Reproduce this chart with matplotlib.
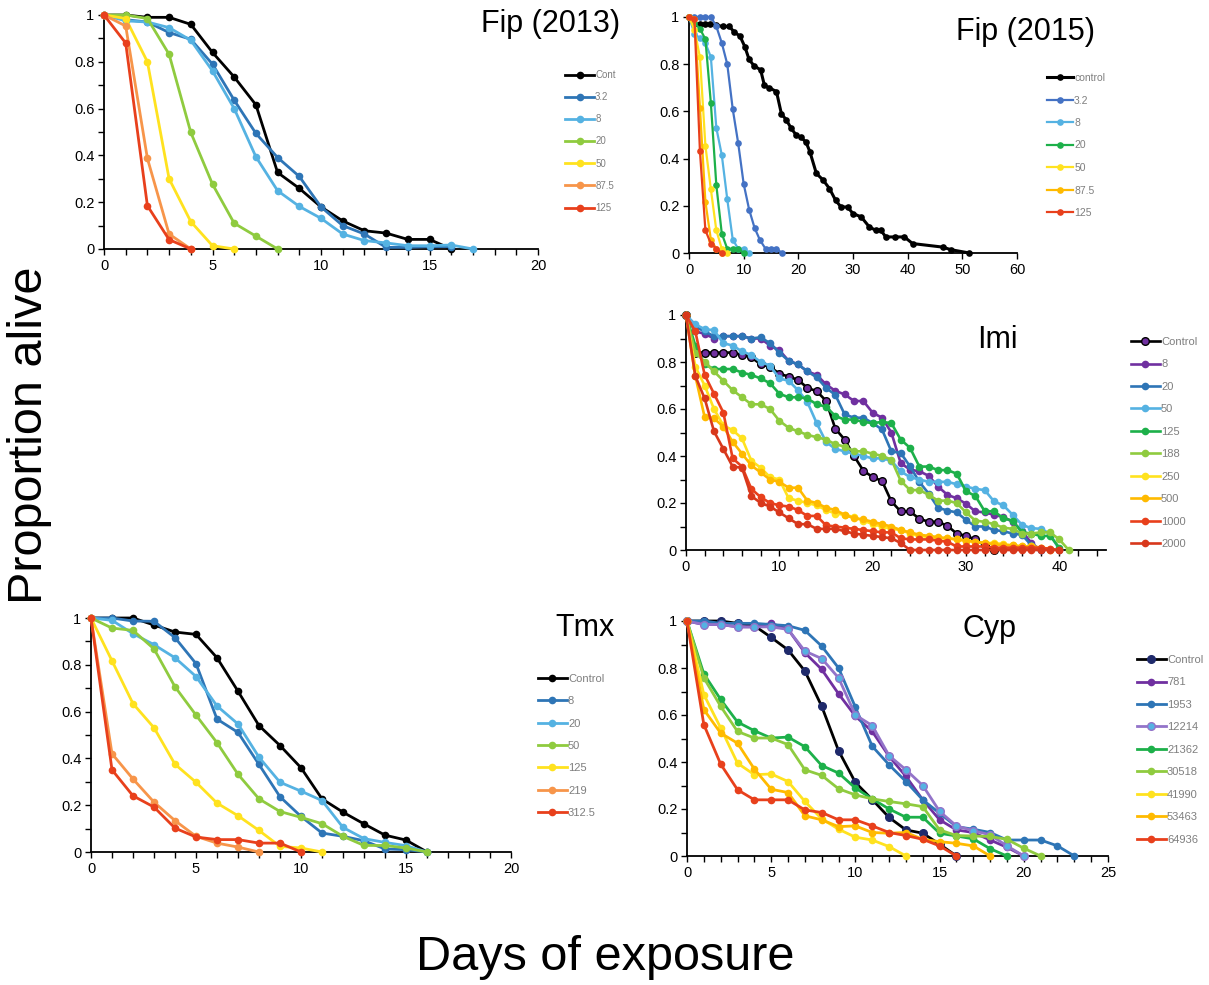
import matplotlib
matplotlib.use("Agg")
import matplotlib.pyplot as plt
from matplotlib.ticker import MultipleLocator, FuncFormatter

plt.rcParams['font.family'] = ['Liberation Sans', 'DejaVu Sans']

W, H = 1209, 985

# ---------------- data ----------------
# Fip (2013), one point per day
fip13_labels = ['Cont', '3.2', '8', '20', '50', '87.5', '125']
fip13_cont = [1, 1.0, 0.99, 0.99, 0.96, 0.84, 0.735, 0.616, 0.327, 0.259, 0.18, 0.12, 0.078, 0.068, 0.041, 0.041, 0]
fip13_3_2 = [1, 0.98, 0.97, 0.925, 0.896, 0.79, 0.636, 0.494, 0.391, 0.31, 0.18, 0.10, 0.064, 0.007, 0.007, 0.01, 0.01]
fip13_8 = [1, 0.975, 0.97, 0.946, 0.892, 0.761, 0.60, 0.394, 0.249, 0.182, 0.131, 0.064, 0.036, 0.026, 0.014, 0.014, 0.017, 0]
fip13_20 = [1, 1.0, 0.985, 0.832, 0.498, 0.277, 0.11, 0.055, 0]
fip13_50 = [1, 0.985, 0.80, 0.30, 0.117, 0.014, 0]
fip13_87_5 = [1, 0.953, 0.387, 0.064, 0]
fip13_125 = [1, 0.88, 0.185, 0.04, 0]

# Fip (2015)
fip15_labels = ['control', '3.2', '8', '20', '50', '87.5', '125']
fip15_ctrl_x = [0, 1, 2, 3, 3.8, 5, 6.2, 7.4, 8.3, 9.3, 10.2, 11, 11.9, 13.1, 13.8, 14.7, 16, 16.9, 17.8,
                18.7, 19.6, 20.5, 21.4, 22.1, 23.3, 24.5, 25.7, 26.8, 27.8, 29, 30, 31.5, 33, 34.2, 35.1,
                36, 37.6, 39.4, 40.9, 46.4, 47.9, 51.3]
fip15_ctrl = [1, 0.97, 0.97, 0.97, 0.97, 0.965, 0.96, 0.96, 0.935, 0.92, 0.875, 0.82, 0.793, 0.776, 0.71,
              0.70, 0.684, 0.59, 0.564, 0.528, 0.50, 0.49, 0.47, 0.43, 0.337, 0.31, 0.273, 0.224, 0.195,
              0.195, 0.167, 0.153, 0.11, 0.096, 0.096, 0.068, 0.068, 0.068, 0.04, 0.025, 0.014, 0]
fip15_3_2 = [1, 1, 1, 1, 1, 0.96, 0.89, 0.80, 0.61, 0.465, 0.293, 0.184, 0.106, 0.054, 0.018, 0.018, 0.018, 0]
fip15_8 = [1, 0.93, 0.91, 0.89, 0.83, 0.53, 0.415, 0.228, 0.057, 0.018, 0.018, 0]
fip15_20 = [1, 0.975, 0.95, 0.906, 0.635, 0.287, 0.082, 0.018, 0.018, 0.018, 0]
fip15_50 = [1, 0.946, 0.83, 0.455, 0.27, 0.096, 0.018, 0]
fip15_87_5 = [1, 0.99, 0.615, 0.217, 0.057, 0.018, 0]
fip15_125 = [1, 0.99, 0.432, 0.096, 0.04, 0.018, 0]

# Imi
imi_labels = ['Control', '8', '20', '50', '125', '188', '250', '500', '1000', '2000']
imi_ctrl = [1, 0.84, 0.84, 0.84, 0.84, 0.84, 0.83, 0.82, 0.79, 0.78, 0.75, 0.738, 0.724, 0.69, 0.676, 0.635,
            0.516, 0.47, 0.40, 0.338, 0.31, 0.294, 0.207, 0.164, 0.164, 0.133, 0.12, 0.12, 0.103, 0.07, 0.06,
            0.045, 0.02, 0]
imi_8 = [1, 0.93, 0.92, 0.90, 0.91, 0.91, 0.91, 0.90, 0.90, 0.87, 0.85, 0.805, 0.79, 0.76, 0.745, 0.705, 0.677,
         0.662, 0.634, 0.634, 0.584, 0.563, 0.50, 0.37, 0.342, 0.335, 0.316, 0.27, 0.235, 0.22, 0.197, 0.164,
         0.16, 0.15, 0.14, 0.12, 0.08, 0.03, 0]
imi_20 = [1, 0.95, 0.93, 0.91, 0.91, 0.91, 0.91, 0.90, 0.905, 0.88, 0.84, 0.805, 0.79, 0.76, 0.735, 0.69, 0.66,
          0.577, 0.563, 0.563, 0.54, 0.513, 0.42, 0.413, 0.356, 0.29, 0.24, 0.18, 0.168, 0.16, 0.128, 0.10,
          0.10, 0.085, 0.08, 0.07, 0.065, 0.02, 0]
imi_50 = [1, 0.96, 0.94, 0.935, 0.88, 0.87, 0.845, 0.83, 0.80, 0.785, 0.73, 0.72, 0.68, 0.63, 0.54, 0.46, 0.43,
          0.42, 0.41, 0.40, 0.39, 0.39, 0.38, 0.335, 0.31, 0.30, 0.29, 0.29, 0.29, 0.28, 0.27, 0.26, 0.255,
          0.207, 0.19, 0.15, 0.107, 0.093, 0.09, 0.07, 0.0]
imi_125 = [1, 0.87, 0.79, 0.77, 0.77, 0.77, 0.755, 0.745, 0.73, 0.71, 0.665, 0.65, 0.65, 0.645, 0.62, 0.61, 0.57,
           0.555, 0.555, 0.545, 0.54, 0.545, 0.54, 0.47, 0.435, 0.355, 0.355, 0.34, 0.34, 0.325, 0.25, 0.23,
           0.165, 0.165, 0.135, 0.125, 0.075, 0.07, 0.06, 0.06, 0.01]
imi_188 = [1, 0.84, 0.80, 0.76, 0.72, 0.68, 0.65, 0.62, 0.62, 0.60, 0.55, 0.52, 0.505, 0.49, 0.48, 0.47, 0.45,
           0.44, 0.42, 0.42, 0.41, 0.40, 0.385, 0.295, 0.255, 0.255, 0.235, 0.21, 0.21, 0.20, 0.16, 0.125, 0.12,
           0.11, 0.095, 0.09, 0.07, 0.07, 0.075, 0.075, 0.045, 0]
imi_250 = [1, 0.78, 0.70, 0.60, 0.53, 0.51, 0.475, 0.38, 0.35, 0.31, 0.30, 0.22, 0.21, 0.20, 0.19, 0.17, 0.155,
           0.15, 0.14, 0.125, 0.11, 0.10, 0.09, 0.085, 0.07, 0.06, 0.055, 0.05, 0.05, 0.045, 0.04, 0.035, 0.03,
           0.03, 0.025, 0.02, 0.015, 0.015, 0.01, 0.005]
imi_500 = [1, 0.74, 0.565, 0.56, 0.525, 0.46, 0.41, 0.36, 0.33, 0.30, 0.29, 0.265, 0.265, 0.21, 0.20, 0.18, 0.17,
           0.15, 0.135, 0.13, 0.12, 0.11, 0.10, 0.085, 0.075, 0.065, 0.06, 0.055, 0.05, 0.045, 0.04, 0.035, 0.03,
           0.025, 0.02, 0.02, 0.015, 0.015, 0.01, 0]
imi_1000 = [1, 0.93, 0.745, 0.665, 0.585, 0.39, 0.355, 0.26, 0.225, 0.20, 0.19, 0.185, 0.17, 0.145, 0.145, 0.105,
            0.10, 0.095, 0.09, 0.085, 0.08, 0.075, 0.075, 0.05, 0.045, 0.045, 0.045, 0.04, 0.035, 0.015, 0.015,
            0.015, 0.015, 0.01, 0.01, 0.01, 0.01, 0.01, 0.01, 0.005, 0]
imi_2000 = [1, 0.74, 0.645, 0.505, 0.43, 0.355, 0.35, 0.23, 0.20, 0.185, 0.16, 0.135, 0.11, 0.11, 0.09, 0.09,
            0.09, 0.08, 0.07, 0.065, 0.06, 0.055, 0.05, 0.03, 0, 0, 0, 0, 0, 0, 0, 0, 0, 0, 0, 0, 0, 0, 0, 0, 0]

# Tmx
tmx_labels = ['Control', '8', '20', '50', '125', '219', '312.5']
tmx_ctrl = [1, 1.0, 1.0, 0.97, 0.94, 0.93, 0.83, 0.687, 0.54, 0.455, 0.36, 0.227, 0.17, 0.12, 0.072, 0.051, 0]
tmx_8 = [1, 1.0, 0.987, 0.986, 0.916, 0.805, 0.568, 0.511, 0.374, 0.236, 0.152, 0.081, 0.067, 0.048, 0.013, 0.01, 0]
tmx_20 = [1, 0.99, 0.933, 0.886, 0.83, 0.75, 0.624, 0.547, 0.405, 0.298, 0.26, 0.22, 0.105, 0.057, 0.041, 0.027, 0]
tmx_50 = [1, 0.957, 0.947, 0.868, 0.706, 0.585, 0.467, 0.332, 0.227, 0.173, 0.148, 0.121, 0.067, 0.028, 0.028, 0.017, 0]
tmx_125 = [1, 0.817, 0.634, 0.531, 0.375, 0.298, 0.209, 0.155, 0.092, 0.024, 0.017, 0]
tmx_219 = [1, 0.42, 0.312, 0.213, 0.134, 0.067, 0.038, 0.021, 0]
tmx_312_5 = [1, 0.351, 0.24, 0.192, 0.102, 0.064, 0.053, 0.053, 0.038, 0.038, 0]

# Cyp
cyp_labels = ['Control', '781', '1953', '12214', '21362', '30518', '41990', '53463', '64936']
cyp_ctrl = [1, 1.0, 1.0, 0.99, 0.98, 0.93, 0.877, 0.787, 0.637, 0.448, 0.313, 0.24, 0.164, 0.111, 0.097, 0.05, 0]
cyp_781 = [1, 0.985, 0.985, 0.975, 0.975, 0.99, 0.965, 0.865, 0.794, 0.69, 0.595, 0.53, 0.424, 0.339, 0.239,
           0.154, 0.111, 0.10, 0.068, 0.037, 0]
cyp_1953 = [1, 1.0, 0.99, 0.99, 0.99, 0.985, 0.98, 0.96, 0.893, 0.80, 0.633, 0.467, 0.388, 0.317, 0.239, 0.182,
            0.125, 0.114, 0.10, 0.068, 0.068, 0.068, 0.043, 0]
cyp_12214 = [1, 0.985, 0.985, 0.975, 0.975, 0.975, 0.964, 0.872, 0.84, 0.758, 0.60, 0.555, 0.427, 0.367, 0.30,
             0.19, 0.128, 0.108, 0.09, 0.043, 0]
cyp_21362 = [1, 0.775, 0.666, 0.57, 0.533, 0.502, 0.506, 0.465, 0.385, 0.353, 0.289, 0.243, 0.20, 0.165, 0.165,
             0.097, 0.085, 0.073, 0.031, 0]
cyp_30518 = [1, 0.758, 0.637, 0.53, 0.502, 0.502, 0.474, 0.367, 0.343, 0.286, 0.26, 0.243, 0.232, 0.222, 0.21,
             0.111, 0.087, 0.085, 0.083, 0.071, 0.033, 0]
cyp_41990 = [1, 0.687, 0.545, 0.395, 0.346, 0.349, 0.317, 0.232, 0.158, 0.114, 0.08, 0.068, 0.04, 0]
cyp_53463 = [1, 0.623, 0.523, 0.48, 0.37, 0.284, 0.27, 0.171, 0.154, 0.125, 0.128, 0.10, 0.097, 0.10, 0.071,
             0.061, 0.054, 0.043, 0]
cyp_64936 = [1, 0.559, 0.391, 0.282, 0.239, 0.239, 0.239, 0.196, 0.185, 0.154, 0.154, 0.128, 0.10, 0.087, 0.071,
             0.043, 0]

# ---------------- colours ----------------
BLACK = '#000000'
BLUE = '#2E75B6'
LBLUE = '#55B2E2'
YGREEN = '#8FCB3F'
GREEN = '#1DB04A'
YELLOW = '#FFE21F'
LORANGE = '#F7954A'
ORANGE = '#FFBA00'
RED = '#E8401C'
DRED = '#D8381C'
PURPLE = '#7030A0'
LPURPLE = '#9373C9'
NAVY = '#1F2A6B'
BLUE2 = '#4472C4'


def fx(px):
    return px / W


def fy(py):
    return 1 - py / H


def make_axes(left, top, right, bottom):
    return fig.add_axes([fx(left), fy(bottom), (right - left) / W, (bottom - top) / H])


def style(ax, xmax, xmajor, xminor, yminor=True):
    ax.set_xlim(0, xmax)
    ax.set_ylim(0, 1)
    for s in ['top', 'right']:
        ax.spines[s].set_visible(False)
    for s in ['left', 'bottom']:
        ax.spines[s].set_linewidth(1.3)
    ax.xaxis.set_major_locator(MultipleLocator(xmajor))
    if xminor:
        ax.xaxis.set_minor_locator(MultipleLocator(xminor))
    ax.yaxis.set_major_locator(MultipleLocator(0.2))
    if yminor:
        ax.yaxis.set_minor_locator(MultipleLocator(0.1))
    ax.yaxis.set_major_formatter(FuncFormatter(lambda v, p: '%g' % round(v, 1)))
    ax.tick_params(which='both', direction='out', length=4, width=1, labelsize=10.5, pad=3)


def draw(ax, xs_list, ys_list, colors, lw, ms, faces=None, edges=None):
    handles = []
    for i, (xs, ys) in enumerate(zip(xs_list, ys_list)):
        if xs is None:
            xs = list(range(len(ys)))
        mf = faces[i] if faces and faces[i] else colors[i]
        me = edges[i] if edges and edges[i] else mf
        mew = 1.0 if edges and edges[i] else 0
        h, = ax.plot(xs, ys, '-o', color=colors[i], lw=lw, ms=ms, mfc=mf, mec=me, mew=mew,
                     clip_on=False, zorder=3 + i * 0.01)
        handles.append(h)
    return handles


def legend(ax, handles, labels, x, y, fs=7.5, hl=2.8, ls=1.0):
    ax.legend(handles, labels, loc='upper left', bbox_to_anchor=(fx(x), fy(y)),
              bbox_transform=fig.transFigure, frameon=False, fontsize=fs, handlelength=hl,
              handletextpad=0.1, labelspacing=ls, borderpad=0, borderaxespad=0,
              labelcolor='#7f7f7f')


fig = plt.figure(figsize=(W / 100, H / 100), dpi=100)

# Fip (2013)
ax1 = make_axes(104, 15, 538, 249)
style(ax1, 20, 5, 1)
h = draw(ax1, [None] * 7,
         [fip13_cont, fip13_3_2, fip13_8, fip13_20, fip13_50, fip13_87_5, fip13_125],
         [BLACK, BLUE, LBLUE, YGREEN, YELLOW, LORANGE, RED], 2.0, 5.5)
legend(ax1, h, fip13_labels, 565, 70, fs=7, hl=3.0, ls=1.25)
fig.text(fx(620), fy(24), 'Fip (2013)', fontsize=22, ha='right', va='center')

# Fip (2015)
ax2 = make_axes(689, 17, 1017, 253)
style(ax2, 60, 10, None, yminor=False)
h = draw(ax2, [fip15_ctrl_x] + [None] * 6,
         [fip15_ctrl, fip15_3_2, fip15_8, fip15_20, fip15_50, fip15_87_5, fip15_125],
         [BLACK, BLUE2, LBLUE, GREEN, YELLOW, ORANGE, RED], 1.6, 4.8)
h[0].set_linewidth(2.2)
legend(ax2, h, fip15_labels, 1047, 73, fs=7.5, hl=2.5, ls=1.2)
fig.text(fx(1095), fy(32), 'Fip (2015)', fontsize=22, ha='right', va='center')

# Imi
ax3 = make_axes(686, 315, 1106, 550)
style(ax3, 45, 10, 2)
h = draw(ax3, [None] * 10,
         [imi_ctrl, imi_8, imi_20, imi_50, imi_125, imi_188, imi_250, imi_500, imi_1000, imi_2000],
         [BLACK, PURPLE, BLUE, LBLUE, GREEN, YGREEN, YELLOW, ORANGE, RED, DRED], 1.9, 5.5,
         faces=[PURPLE] + [None] * 9, edges=[BLACK] + [None] * 9)
legend(ax3, h, imi_labels, 1131, 337, fs=8, hl=2.6, ls=1.12)
fig.text(fx(997), fy(340), 'Imi', fontsize=22, ha='center', va='center')

# Tmx
ax4 = make_axes(91, 618, 511, 852)
style(ax4, 20, 5, 1)
h = draw(ax4, [None] * 7,
         [tmx_ctrl, tmx_8, tmx_20, tmx_50, tmx_125, tmx_219, tmx_312_5],
         [BLACK, BLUE, LBLUE, YGREEN, YELLOW, LORANGE, RED], 2.0, 5.5)
legend(ax4, h, tmx_labels, 538, 674, fs=8, hl=2.6, ls=1.11)
fig.text(fx(615), fy(628), 'Tmx', fontsize=22, ha='right', va='center')

# Cyp
ax5 = make_axes(687, 621, 1108, 856)
style(ax5, 25, 5, 1)
h = draw(ax5, [None] * 9,
         [cyp_ctrl, cyp_781, cyp_1953, cyp_12214, cyp_21362, cyp_30518, cyp_41990, cyp_53463, cyp_64936],
         [BLACK, PURPLE, BLUE, LPURPLE, GREEN, YGREEN, YELLOW, ORANGE, RED], 2.0, 5.5,
         faces=[NAVY, None, None, LBLUE, None, None, None, None, None],
         edges=[NAVY, None, None, LPURPLE, None, None, None, None, None])
legend(ax5, h, cyp_labels, 1137, 655, fs=8, hl=2.6, ls=1.12)
fig.text(fx(990), fy(629), 'Cyp', fontsize=22, ha='center', va='center')

fig.text(fx(30), fy(435), 'Proportion alive', fontsize=35, rotation=90, ha='center', va='center')
fig.text(fx(605), fy(957), 'Days of exposure', fontsize=35, ha='center', va='center')

fig.savefig('out.png', dpi=100)
